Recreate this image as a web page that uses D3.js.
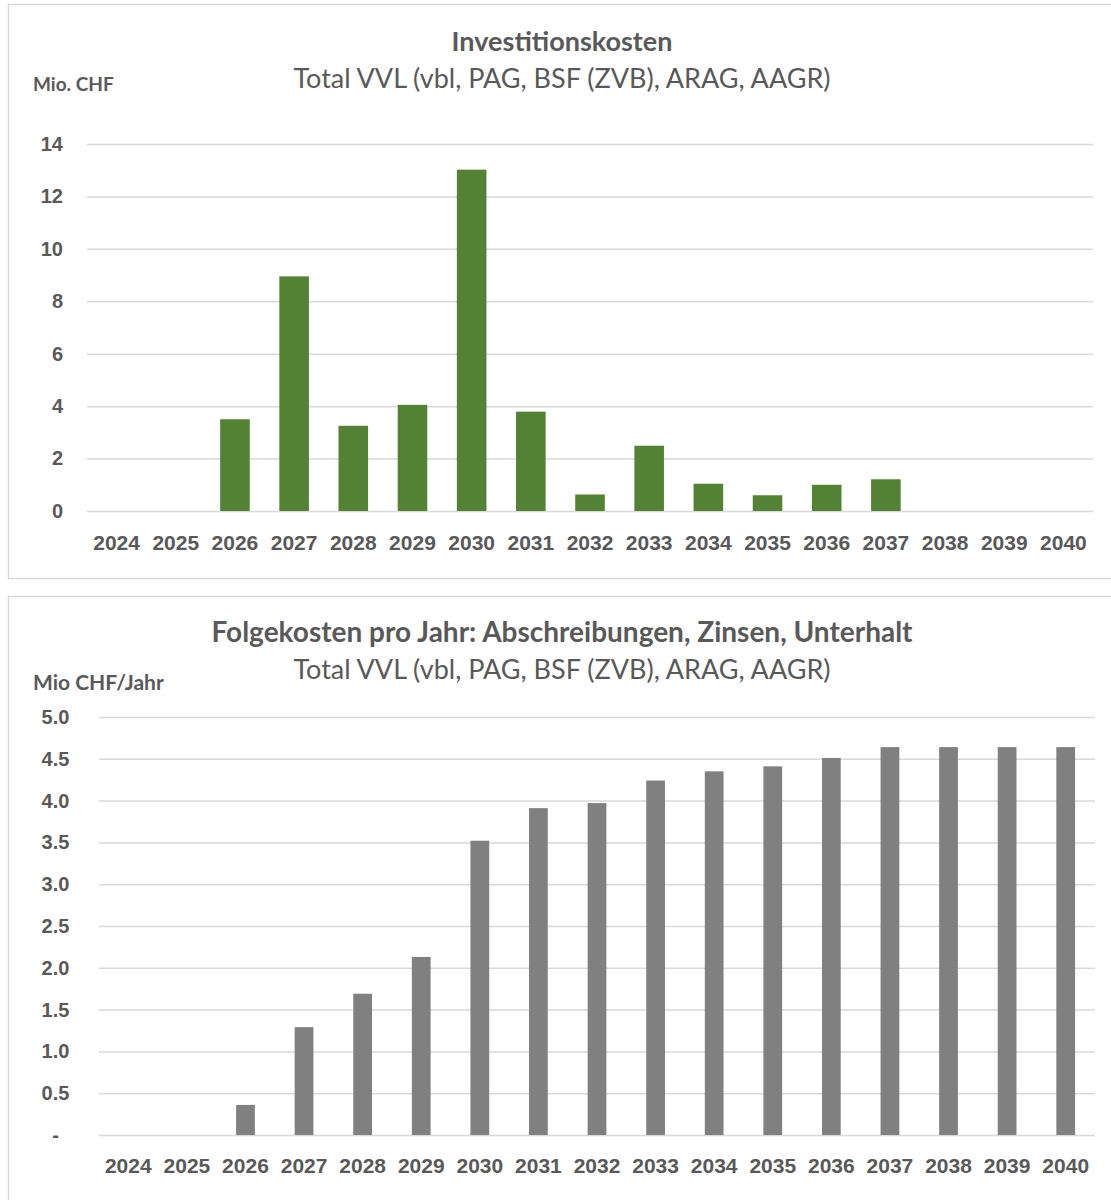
<!DOCTYPE html>
<html>
<head>
<meta charset="utf-8">
<script src="https://cdn.jsdelivr.net/npm/d3@7"></script>
<style>
  body { margin: 0; background: #fff; }
  svg { display: block; font-family: Lato, "Open Sans", sans-serif; }
</style>
</head>
<body>
<svg id="chart" width="1111" height="1200"></svg>
<script>
const years = ["2024", "2025", "2026", "2027", "2028", "2029", "2030", "2031", "2032",
  "2033", "2034", "2035", "2036", "2037", "2038", "2039", "2040"];

// Investitionskosten, Mio. CHF
const investValues = [0, 0, 3.5, 8.95, 3.25, 4.05, 13.02, 3.79, 0.63, 2.49, 1.04, 0.6, 1.0, 1.21, 0, 0, 0];
const investTicks = [0, 2, 4, 6, 8, 10, 12, 14];

// Folgekosten, Mio CHF/Jahr
const folgeValues = [0, 0, 0.36, 1.29, 1.69, 2.13, 3.52, 3.91, 3.97, 4.24, 4.35, 4.41, 4.51, 4.64, 4.64, 4.64, 4.64];
const folgeTicks = [0, 0.5, 1, 1.5, 2, 2.5, 3, 3.5, 4, 4.5, 5];

const subtitle = "Total VVL (vbl, PAG, BSF (ZVB), ARAG, AAGR)";
const textColor = "#595959";
const gridColor = "#d9d9d9";

const svg = d3.select("#chart");

const drawChart = (opts) => {
  const g = svg.append("g");

  // Rahmen
  g.append("rect")
    .attr("x", 8.5)
    .attr("y", opts.box[0])
    .attr("width", 1120)
    .attr("height", opts.box[1])
    .attr("fill", "#fff")
    .attr("stroke", gridColor)
    .attr("stroke-width", 1.5);

  const x = d3
    .scaleBand()
    .domain(years)
    .range([opts.left, opts.right])
    .paddingInner(opts.pad)
    .paddingOuter(opts.pad / 2);

  const y = d3.scaleLinear().domain(opts.domain).range([opts.bottom, opts.top]);

  const yAxis = g
    .append("g")
    .attr("transform", `translate(${opts.left},0)`)
    .call(
      d3
        .axisLeft(y)
        .tickValues(opts.ticks)
        .tickSize(-(opts.right - opts.left))
        .tickFormat(opts.format)
    )
    .call((g) => g.select(".domain").remove());

  yAxis.selectAll(".tick line").attr("stroke", gridColor).attr("stroke-width", 1.5);
  yAxis
    .selectAll(".tick text")
    .attr("x", opts.labelX - opts.left)
    .attr("text-anchor", opts.labelAnchor)
    .attr("fill", textColor)
    .style("font-size", "20px")
    .style("font-weight", "bold");

  const xAxis = g
    .append("g")
    .attr("transform", `translate(0,${opts.bottom})`)
    .call(d3.axisBottom(x).tickSize(0).tickPadding(opts.xPad))
    .call((g) => g.select(".domain").remove());

  xAxis
    .selectAll(".tick text")
    .attr("fill", textColor)
    .style("font-size", "21px")
    .style("font-weight", "bold");

  g.append("g")
    .selectAll("rect")
    .data(opts.values)
    .join("rect")
    .attr("x", (d, i) => x(years[i]))
    .attr("y", (d) => y(d))
    .attr("width", x.bandwidth())
    .attr("height", (d) => y(0) - y(d))
    .attr("fill", opts.color);

  g.append("text")
    .attr("x", 562)
    .attr("y", opts.titleY)
    .attr("text-anchor", "middle")
    .attr("fill", textColor)
    .style("font-size", opts.titleSize)
    .style("font-weight", "bold")
    .text(opts.title);

  g.append("text")
    .attr("x", 562)
    .attr("y", opts.titleY + 37)
    .attr("text-anchor", "middle")
    .attr("fill", textColor)
    .style("font-size", "27px")
    .text(subtitle);

  g.append("text")
    .attr("x", 33)
    .attr("y", opts.unitY)
    .attr("fill", textColor)
    .style("font-size", opts.unitSize)
    .style("font-weight", "bold")
    .text(opts.unit);
};

drawChart({
  box: [4.5, 574],
  title: "Investitionskosten",
  titleSize: "27px",
  titleY: 51,
  unit: "Mio. CHF",
  unitSize: "19px",
  unitY: 91,
  values: investValues,
  ticks: investTicks,
  domain: [0, 14],
  format: (d) => d,
  left: 87,
  right: 1093,
  top: 144,
  bottom: 511,
  pad: 0.5,
  labelX: 63,
  labelAnchor: "end",
  xPad: 24,
  color: "#548235",
});

drawChart({
  box: [596.5, 700],
  title: "Folgekosten pro Jahr: Abschreibungen, Zinsen, Unterhalt",
  titleSize: "28px",
  titleY: 642,
  unit: "Mio CHF/Jahr",
  unitSize: "21px",
  unitY: 690,
  values: folgeValues,
  ticks: folgeTicks,
  domain: [0, 5],
  format: (d) => (d === 0 ? "-" : d3.format(".1f")(d)),
  left: 99,
  right: 1095,
  top: 717,
  bottom: 1135,
  pad: 0.68,
  labelX: 55.5,
  labelAnchor: "middle",
  xPad: 23,
  color: "#808080",
});
</script>
</body>
</html>
